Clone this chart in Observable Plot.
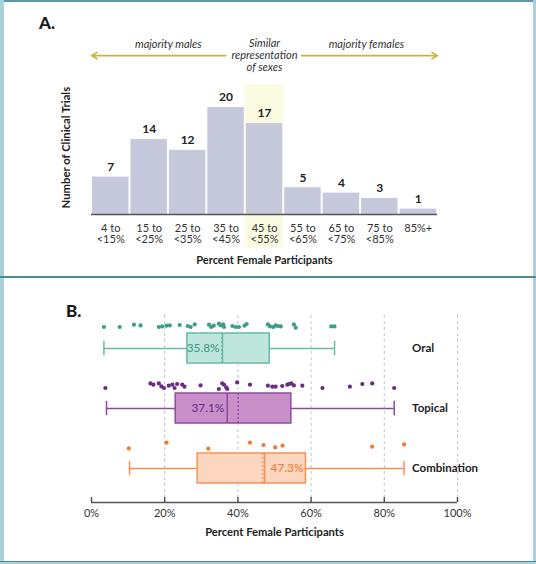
<!DOCTYPE html>
<html><head><meta charset="utf-8">
<script src="https://cdn.jsdelivr.net/npm/d3@7"></script>
<script src="https://cdn.jsdelivr.net/npm/@observablehq/plot@0.6"></script>
<style>
body{margin:0;background:#fff;}
#wrap{position:relative;width:536px;height:564px;overflow:hidden;font-family:Lato,"Open Sans",sans-serif;background:#fff;}
.plot{position:absolute;left:0;}
.border{position:absolute;}
.panel-title{position:absolute;font-weight:900;font-size:17px;color:#1a1a1a;}
</style></head><body>
<div id="wrap">
  <div class="border" style="left:0;top:0;width:536px;height:1.5px;background:#5b97a9"></div>
  <div class="border" style="left:0;top:0;width:4px;height:564px;background:#a9cfdb"></div>
  <div class="border" style="right:0;top:0;width:3px;height:564px;background:#a9cfdb"></div>
  <div class="border" style="left:0;top:275.5px;width:536px;height:2px;background:#4f8a9b"></div>
  <div class="border" style="left:0;top:561px;width:536px;height:3px;background:#a9cfdb"></div>
  <div class="border" style="left:0;top:561px;width:536px;height:1px;background:#4f8a9b"></div>
  <div class="panel-title" style="left:39px;top:12px">A.</div>
  <div class="panel-title" style="left:66px;top:300px">B.</div>
  <div id="panelA" class="plot" style="top:0"></div>
  <div id="panelB" class="plot" style="top:279px"></div>
</div>
<script>
// ---------- Panel A data ----------
const binLabels = ["4 to\n<15%", "15 to\n<25%", "25 to\n<35%", "35 to\n<45%", "45 to\n<55%", "55 to\n<65%", "65 to\n<75%", "75 to\n<85%", "85%+"];
const trialCounts = [7, 14, 12, 20, 17, 5, 4, 3, 1];
const highlightBin = 4;
const sideLabels = ["majority males", "Similar\nrepresentation\nof sexes", "majority females"];
const sideLabelBins = [2.0, 4.5, 7.15];

// ---------- Panel B data ----------
const groups = ["Oral", "Topical", "Combination"];
const oralValues = [3.4, 7.7, 11.6, 13.4, 18.4, 19.3, 20.5, 21.4, 24.1, 26.3, 27.1, 28.2, 32.1, 32.7, 33.4, 34.8, 35.3, 36.0, 36.2, 38.5, 39.4, 40.3, 41.8, 42.4, 48.2, 48.8, 49.7, 50.3, 50.9, 51.7, 55.3, 55.8, 65.5, 66.4];
const oralJitter = [1.3, 1.3, -1, -0.3, 1.3, 0.7, 0, -0.3, -0.7, 0.3, 1.3, -1.3, -1, 1.3, 0, -2, -0.3, -1.3, 1.3, 0.3, 1.3, 1.3, 0, -1.7, -1.3, 0.7, 1.3, -0.3, 0.3, 0.7, -1.3, 2, 0.7, 0.7];
const topicalValues = [3.8, 16.1, 16.9, 18.4, 19.1, 19.8, 21.1, 22.1, 22.7, 23.4, 24.8, 25.4, 29.8, 34.8, 35.7, 36.2, 36.8, 37.1, 39.8, 43.3, 48.2, 49.4, 50.3, 52.1, 53.5, 54.0, 54.6, 55.3, 57.6, 63.1, 70.6, 74.0, 76.7, 82.7];
const topicalJitter = [2.3, -2.3, -1, -2.3, 0.7, 2.3, 0, -1, 2.3, -1.7, -1, 1, -0.3, 3.3, -2.3, -1, 1.7, 3.3, -3.3, -1, 0, 1, 1, 0.3, -1, -1.7, -2.3, -0.3, 0, 2.3, 1, -1.7, -2.3, 2.3];
const combinationValues = [10.2, 20.5, 31.9, 43.3, 47.0, 50.2, 52.2, 76.7, 85.4];
const combinationJitter = [2.7, -3, 3, -3, -0.7, 1.7, 0, 1, -1.3];
const boxMin = [3.4, 4.1, 10.4];
const boxQ1 = [26.2, 23.0, 29.0];
const boxMedian = [35.8, 37.1, 47.3];
const boxMean = [35.6, 40.1, 46.8];
const boxQ3 = [48.7, 54.6, 58.6];
const boxMax = [66.4, 82.7, 85.4];
const xTicks = [0, 20, 40, 60, 80, 100];

// ---------- Panel A ----------
const font = "Lato, 'Open Sans', sans-serif";
const bins = binLabels.map((label, i) => ({i, label, count: trialCounts[i]}));
const gold = "#c8b640";
const plotA = Plot.plot({
  width: 536, height: 275,
  marginLeft: 91, marginRight: 99, marginTop: 0, marginBottom: 61,
  x: {domain: [0, binLabels.length], axis: null},
  y: {domain: [0, 40], axis: null},
  style: {fontFamily: font, background: "transparent", overflow: "visible"},
  marks: [
    Plot.rect([highlightBin], {x1: d => d, x2: d => d + 1, y1: -6.2, y2: 24.3, fill: "#fbfbe1"}),
    Plot.rect(bins, {x1: "i", x2: d => d.i + 1, y1: 0, y2: "count", fill: "#c6c8dc", insetLeft: 1, insetRight: 1}),
    Plot.ruleY([0], {stroke: "#555", strokeWidth: 1.5}),
    Plot.text(bins, {x: d => d.i + 0.5, y: "count", text: d => String(d.count), dy: -10, fontWeight: "bold", fontSize: 12, fill: "#222"}),
    Plot.text(bins, {x: d => d.i + 0.5, frameAnchor: "bottom", text: "label", lineAnchor: "top", dy: 9, fontSize: 11, lineHeight: 1.05, fill: "#333"}),
    Plot.text(["Percent Female Participants"], {frameAnchor: "bottom", text: d => d, dy: 49, fontWeight: "bold", fontSize: 11, fill: "#222"}),
    Plot.text(["Number of Clinical Trials"], {x: -0.65, y: 12.5, text: d => d, rotate: -90, fontWeight: "bold", fontSize: 11.3, fill: "#222"}),
    Plot.arrow([{a: highlightBin - 0.5, b: 0}, {a: highlightBin + 1.46, b: binLabels.length}], {x1: "a", x2: "b", y1: 29.7, y2: 29.7, stroke: gold, strokeWidth: 1.6, headLength: 6}),
    Plot.text(sideLabels, {x: (d, i) => sideLabelBins[i], y: (d, i) => i === 1 ? 29.8 : 31.8, text: d => d, fontStyle: "italic", fontSize: 11, lineHeight: 1.13, fill: "#333"})
  ]
});
document.getElementById("panelA").appendChild(plotA);

// ---------- Panel B ----------
const colors = {
  Oral: {dot: "#3a9e88", fill: "#bfe6dc", stroke: "#6bbaa6", label: "#3f9c86"},
  Topical: {dot: "#6b2a86", fill: "#c98fc8", stroke: "#8d4b9b", label: "#6d2f85"},
  Combination: {dot: "#f07a35", fill: "#fcd6bf", stroke: "#f39158", label: "#f07a35"}
};
const valuesByGroup = [oralValues, topicalValues, combinationValues];
const jitterByGroup = [oralJitter, topicalJitter, combinationJitter];
const yRange = [69, 189];
const yScaleB = d3.scaleLinear([0, 2], yRange);
const heightB = 283, marginBottomB = 60, marginTopB = 36;
const axisRow = yScaleB.invert(heightB - marginBottomB);
const boxHalf = 0.25, capHalf = 0.12, dotOffset = -0.38;

const marksB = [
  Plot.gridX({ticks: xTicks.slice(1), stroke: "#b5b5b5", strokeOpacity: 0.8, strokeDasharray: "3,3"})
];
groups.forEach((g, row) => {
  const c = colors[g];
  const stats = [{row, min: boxMin[row], q1: boxQ1[row], med: boxMedian[row], mean: boxMean[row], q3: boxQ3[row], max: boxMax[row]}];
  const pts = valuesByGroup[row].map((v, k) => ({v, y: row + dotOffset + jitterByGroup[row][k] / 60}));
  marksB.push(
    Plot.ruleY(stats, {y: "row", x1: "min", x2: "q1", stroke: c.stroke, strokeWidth: 1.5}),
    Plot.ruleY(stats, {y: "row", x1: "q3", x2: "max", stroke: c.stroke, strokeWidth: 1.5}),
    Plot.ruleX(stats, {x: "min", y1: d => d.row - capHalf, y2: d => d.row + capHalf, stroke: c.stroke, strokeWidth: 1.5}),
    Plot.ruleX(stats, {x: "max", y1: d => d.row - capHalf, y2: d => d.row + capHalf, stroke: c.stroke, strokeWidth: 1.5}),
    Plot.rect(stats, {x1: "q1", x2: "q3", y1: d => d.row - boxHalf, y2: d => d.row + boxHalf, fill: c.fill, stroke: c.stroke, strokeWidth: 1.5}),
    Plot.ruleX(stats, {x: "mean", y1: d => d.row - boxHalf, y2: d => d.row + boxHalf, stroke: c.stroke, strokeWidth: 1.3, strokeDasharray: "2,2"}),
    Plot.ruleX(stats, {x: "med", y1: d => d.row - boxHalf, y2: d => d.row + boxHalf, stroke: c.stroke, strokeWidth: 1.5}),
    Plot.text(stats, {x: "med", y: "row", text: d => d.med.toFixed(1) + "%", textAnchor: g === "Combination" ? "start" : "end", dx: g === "Combination" ? 6 : -3, fontSize: 11.8, fontWeight: 500, fill: c.label}),
    Plot.dot(pts, {x: "v", y: "y", r: 2.1, fill: c.dot, stroke: "none"}),
    Plot.text([g], {x: 87.6, y: row, text: d => d, textAnchor: "start", fontWeight: "bold", fontSize: 11.5, fill: "#222"})
  );
});
marksB.push(
  Plot.ruleY([axisRow], {stroke: "#555", strokeWidth: 1.5}),
  Plot.ruleX(xTicks, {insetTop: heightB - marginBottomB - marginTopB - 5, stroke: "#555", strokeWidth: 1.5}),
  Plot.axisX({ticks: xTicks, tickFormat: d => d + "%", tickSize: 0, tickPadding: 7, fontSize: 11, fill: "#333", label: null}),
  Plot.text(["Percent Female Participants"], {frameAnchor: "bottom", text: d => d, dy: 33, fontWeight: "bold", fontSize: 11.2, fill: "#222"})
);
const plotB = Plot.plot({
  width: 536, height: heightB,
  marginLeft: 91, marginRight: 79, marginTop: marginTopB, marginBottom: marginBottomB,
  x: {domain: [0, 100]},
  y: {domain: [0, 2], range: yRange, axis: null},
  style: {fontFamily: font, background: "transparent", overflow: "visible"},
  marks: marksB
});
document.getElementById("panelB").appendChild(plotB);
</script>
</body></html>
